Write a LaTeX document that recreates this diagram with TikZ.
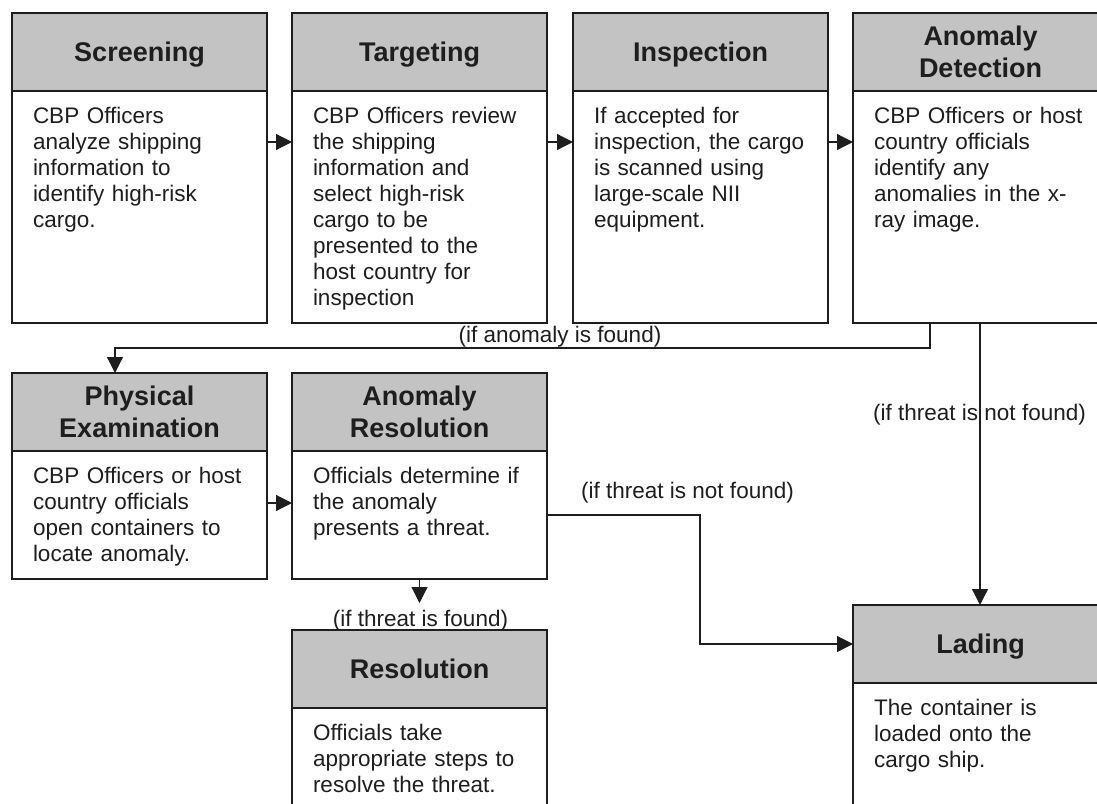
\documentclass[tikz,border=0pt]{standalone}
\usepackage{fontspec}
\setmainfont{Liberation Sans}
\usetikzlibrary{arrows.meta,calc}
\definecolor{ink}{HTML}{1E1E1E}
\definecolor{hdrgray}{HTML}{C3C3C3}
\tikzset{
  hdr/.style={draw=ink, line width=2pt, fill=hdrgray, minimum width=255pt, minimum height=78pt,
    inner sep=0pt, outer sep=0pt, anchor=north west, align=center,
    font=\fontsize{27}{32}\selectfont\bfseries, text=ink},
  hdrone/.style={hdr, text height=19.4pt, text depth=0pt},
  bodybox/.style={draw=ink, line width=2pt, fill=white, minimum width=255pt,
    inner sep=0pt, outer sep=0pt, anchor=north},
  bodytxt/.style={anchor=north west, inner sep=0pt, outer sep=0pt, text width=236pt,
    align=left, font=\fontsize{22.5}{26}\selectfont, text=ink},
  lbl/.style={anchor=base, inner sep=0pt, font=\fontsize{22.5}{26}\selectfont, text=ink},
  arr/.style={draw=ink, line width=1.2pt, -{Triangle[length=16pt,width=16pt]}},
}
\newcommand\mystage[7]{%
  \node[#5] (#1-h) at (#2,#3) {#6};
  \node[bodybox, minimum height=#4pt] (#1) at (#1-h.south) {};
  \node[bodytxt] (#1-t) at ([xshift=21pt,yshift=-14pt]#1.north west) {\noindent\rule{0pt}{18pt}#7};
}
\begin{document}
\begin{tikzpicture}[x=1pt, y=-1pt]
\path[use as bounding box] (0,0) rectangle (1097,803);
\fill[white] (0,0) rectangle (1097,803);
\clip (0,0) rectangle (1097,803);

% row 1
\mystage{scr}{12}{13}{232}{hdrone}{Screening}{CBP Officers\\analyze shipping\\information to\\identify high-risk\\cargo.}
\mystage{tgt}{292}{13}{232}{hdrone}{Targeting}{CBP Officers review\\the shipping\\information and\\select high-risk\\cargo to be\\presented to the\\host country for\\inspection}
\mystage{ins}{573}{13}{232}{hdrone}{Inspection}{If accepted for\\inspection, the cargo\\is scanned using\\large-scale NII\\equipment.}
\mystage{ad}{853}{13}{232}{hdr}{Anomaly\\Detection}{CBP Officers or host\\country officials\\identify any\\anomalies in the x-\\ray image.}

% row 2
\mystage{pe}{12}{373}{128}{hdr}{Physical\\Examination}{CBP Officers or host\\country officials\\open containers to\\locate anomaly.}
\mystage{ar}{292}{373}{128}{hdr}{Anomaly\\Resolution}{Officials determine if\\the anomaly\\presents a threat.}

% row 3
\mystage{res}{292}{630}{220}{hdrone}{Resolution}{Officials take\\appropriate steps to\\resolve the threat.}
\mystage{lad}{853}{605}{220}{hdrone}{Lading}{The container is\\loaded onto the\\cargo ship.}

% connectors row 1
\draw[arr] ([yshift=-51pt]scr.north east) -- ([yshift=-51pt]tgt.north west);
\draw[arr] ([yshift=-51pt]tgt.north east) -- ([yshift=-51pt]ins.north west);
\draw[arr] ([yshift=-51pt]ins.north east) -- ([yshift=-51pt]ad.north west);

% anomaly found
\draw[arr] ([xshift=77pt]ad.south west) -- ++(0,25) -| ([xshift=103pt]pe-h.north west);
\node[lbl] (l-anom) at (560,342) {(if anomaly is found)};

% threat not found (from detection)
\draw[arr] ([xshift=127pt]ad.south west) -- ([xshift=127pt]lad-h.north west);
\node[lbl, anchor=base west] (l-nf1) at (873,420) {(if threat is not found)};

% row 2
\draw[arr] ([yshift=-52pt]pe.north east) -- ([yshift=-52pt]ar.north west);
\draw[arr] ([yshift=-64pt]ar.north east) -| ([xshift=-153pt]lad-h.west) -- (lad-h.west);
\node[lbl] (l-nf2) at (687.5,498) {(if threat is not found)};

% threat found
\coordinate (arend) at ([yshift=-24pt]ar.south);
\draw[arr] (ar.south) -- (arend);
\node[lbl] (l-found) at (420.5,626) {(if threat is found)};
\end{tikzpicture}
\end{document}
